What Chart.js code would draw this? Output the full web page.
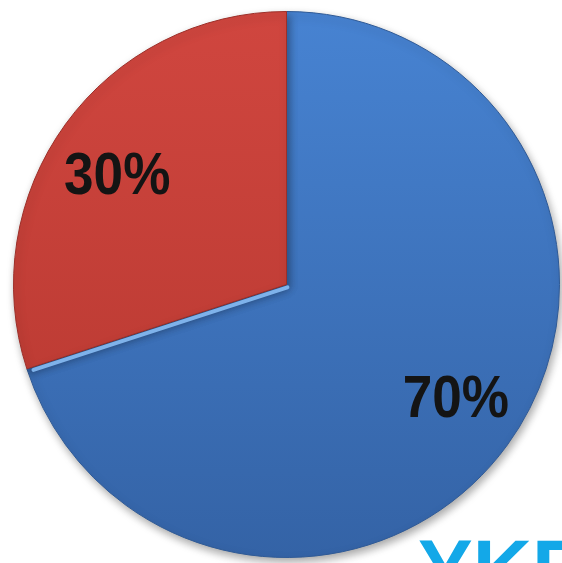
<!DOCTYPE html>
<html>
<head>
<meta charset="utf-8">
<script src="https://cdn.jsdelivr.net/npm/chart.js@4"></script>
<style>
  html, body { margin: 0; padding: 0; background: #fff; overflow: hidden; }
  #wrap { position: relative; width: 562px; height: 563px; }
</style>
</head>
<body>
<div id="wrap"><canvas id="chart" width="562" height="563"></canvas></div>
<script>
// slice data, clockwise from 12 o'clock
const sliceLabels = ['70%', '30%'];
const sliceValues = [70, 30];
const sliceTop = ['#4783d2', '#d0463f'];
const sliceBottom = ['#3463a6', '#b5372f'];
const sliceEdge = ['#2f5a96', '#9c2f29'];
const logoText = 'YKP';

const sliceFill = (ctx) => {
  const i = ctx.dataIndex;
  const area = ctx.chart.chartArea;
  if (!area) return sliceTop[i];
  const g = ctx.chart.ctx.createLinearGradient(0, area.top, 0, area.bottom);
  g.addColorStop(0, sliceTop[i]);
  g.addColorStop(1, sliceBottom[i]);
  return g;
};

// soft drop shadow under the pie
const shadowPlugin = {
  id: 'shadow',
  beforeDatasetsDraw: (chart) => {
    const c = chart.ctx;
    c.save();
    c.shadowColor = 'rgba(0,0,0,0.35)';
    c.shadowBlur = 8;
    c.shadowOffsetX = 2;
    c.shadowOffsetY = 4;
  },
  afterDatasetsDraw: (chart) => {
    chart.ctx.restore();
  }
};

// bevel highlight on the blue side of the lower boundary, labels, logo
const labelPlugin = {
  id: 'sliceLabels',
  afterDraw: (chart) => {
    const c = chart.ctx;
    const meta = chart.getDatasetMeta(0);

    const blue = meta.data[0].getProps(['x', 'y', 'endAngle', 'outerRadius'], true);
    const t = blue.endAngle;
    const nx = Math.sin(t), ny = -Math.cos(t); // points into the blue slice
    c.save();
    c.strokeStyle = 'rgba(135,188,245,0.9)';
    c.lineWidth = 4;
    c.lineCap = 'round';
    c.beginPath();
    c.moveTo(blue.x + nx * 3, blue.y + ny * 3);
    c.lineTo(blue.x + Math.cos(t) * (blue.outerRadius - 6) + nx * 3,
             blue.y + Math.sin(t) * (blue.outerRadius - 6) + ny * 3);
    c.stroke();
    c.restore();

    const size = 59;
    meta.data.forEach((arc, i) => {
      const p = arc.getProps(['x', 'y', 'startAngle', 'endAngle', 'outerRadius'], true);
      const mid = (p.startAngle + p.endAngle) / 2 - 0.047;
      const px = p.x + Math.cos(mid) * p.outerRadius * 0.742;
      const py = p.y + Math.sin(mid) * p.outerRadius * 0.742;
      c.save();
      c.translate(px, py + size * 0.716 / 2);
      c.scale(0.9, 1);
      c.font = `bold ${size}px Arial, "Liberation Sans", sans-serif`;
      c.textAlign = 'center';
      c.textBaseline = 'alphabetic';
      c.fillStyle = '#141414';
      c.fillText(sliceLabels[i], 0, 0);
      c.restore();
    });

    c.save();
    c.font = 'bold 82px Arial, "Liberation Sans", sans-serif';
    c.textAlign = 'left';
    c.textBaseline = 'alphabetic';
    c.fillStyle = '#13a8e8';
    c.fillText(logoText, 418, 538 + 82 * 0.716);
    c.restore();
  }
};

new Chart(document.getElementById('chart'), {
  type: 'pie',
  data: {
    labels: sliceLabels,
    datasets: [{
      data: sliceValues,
      backgroundColor: sliceFill,
      borderColor: sliceEdge,
      borderWidth: 1,
    }],
  },
  options: {
    responsive: false,
    animation: false,
    layout: { padding: { left: 12, right: 1, top: 11, bottom: 5 } },
    plugins: {
      legend: { display: false },
      tooltip: { enabled: false },
    },
  },
  plugins: [shadowPlugin, labelPlugin],
});
</script>
</body>
</html>
